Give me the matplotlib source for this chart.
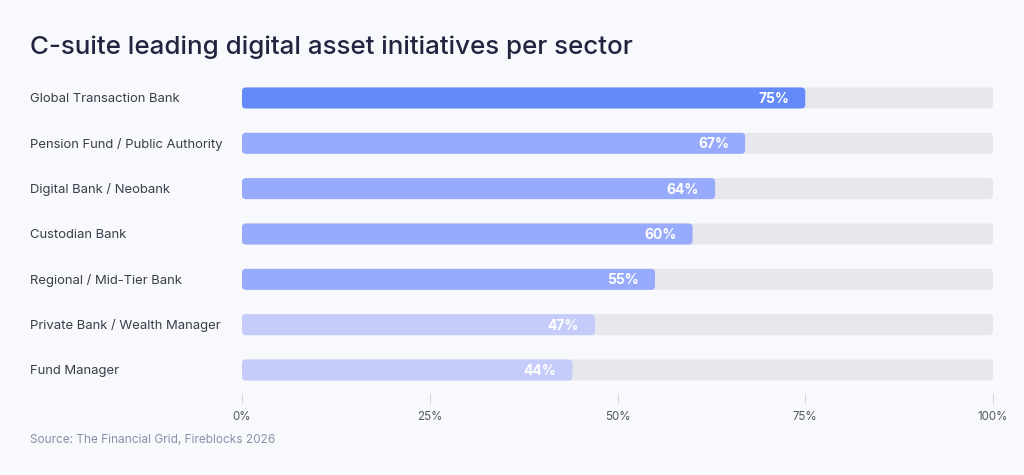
import matplotlib
matplotlib.use("Agg")
import matplotlib.pyplot as plt
from matplotlib.patches import FancyBboxPatch

categories = ["Global Transaction Bank", "Pension Fund / Public Authority",
              "Digital Bank / Neobank", "Custodian Bank", "Regional / Mid-Tier Bank",
              "Private Bank / Wealth Manager", "Fund Manager"]
bar_values = [75, 67, 63, 60, 55, 47, 44]
value_labels = ["75%", "67%", "64%", "60%", "55%", "47%", "44%"]
colors = ["#6489F9", "#98AAFB", "#98AAFB", "#98AAFB", "#98AAFB", "#C5CCFA", "#C5CCFA"]
xticks = [0, 25, 50, 75, 100]
xticklabels = ["0%", "25%", "50%", "75%", "100%"]

plt.rcParams['font.family'] = ['Inter', 'DejaVu Sans']
BG = "#F8F9FC"
fig = plt.figure(figsize=(10.24, 4.75), dpi=100, facecolor=BG)
W, H = 1024, 475
left, right = 242 / W, 993 / W
top_px, bot_px = 75.3, 392.7
ax = fig.add_axes([left, 1 - bot_px / H, right - left, (bot_px - top_px) / H])
ax.set_facecolor(BG)
n = len(categories)
ax.set_xlim(0, 100)
ax.set_ylim(n - 0.5, -0.5)

px_x = (993 - 242) / 100.0
px_y = (bot_px - top_px) / n
r = 4.0
rx = r / px_x
aspect = (r / px_y) / rx
bh = 21 / px_y

for i, (c, v, lab, col) in enumerate(zip(categories, bar_values, value_labels, colors)):
    track = FancyBboxPatch((0, i - bh / 2), 100, bh,
                           boxstyle=f"round,pad=0,rounding_size={rx}",
                           mutation_aspect=aspect, facecolor="#E7E8EE",
                           edgecolor="none", zorder=1)
    ax.add_patch(track)
    bar = FancyBboxPatch((0, i - bh / 2), v, bh,
                         boxstyle=f"round,pad=0,rounding_size={rx}",
                         mutation_aspect=aspect, facecolor=col,
                         edgecolor="none", zorder=2)
    ax.add_patch(bar)
    ax.annotate(lab, (v, i), xytext=(-16, -1), textcoords="offset pixels",
                ha="right", va="center", color="white", fontsize=10,
                fontweight="bold", zorder=3)
    fig.text(30 / W, 1 - (99 + i * px_y) / H, c, ha="left", va="center",
             fontsize=9.4, color="#3A3D4A")

ax.set_yticks([])
ax.set_xticks(xticks)
ax.set_xticklabels(xticklabels, fontsize=8.3, color="#555866")
ax.tick_params(axis="x", length=8, width=0.8, color="#D8DAE2", pad=5, direction="out")
for s in ax.spines.values():
    s.set_visible(False)

fig.text(30 / W, 1 - 47 / H, "C-suite leading digital asset initiatives per sector",
         ha="left", va="center", fontsize=18.7, fontweight="medium", color="#22253F")
fig.text(30 / W, 1 - 440 / H, "Source: The Financial Grid, Fireblocks 2026",
         ha="left", va="center", fontsize=8.5, color="#8A90A8")

fig.savefig("out.png", dpi=100, facecolor=BG)
